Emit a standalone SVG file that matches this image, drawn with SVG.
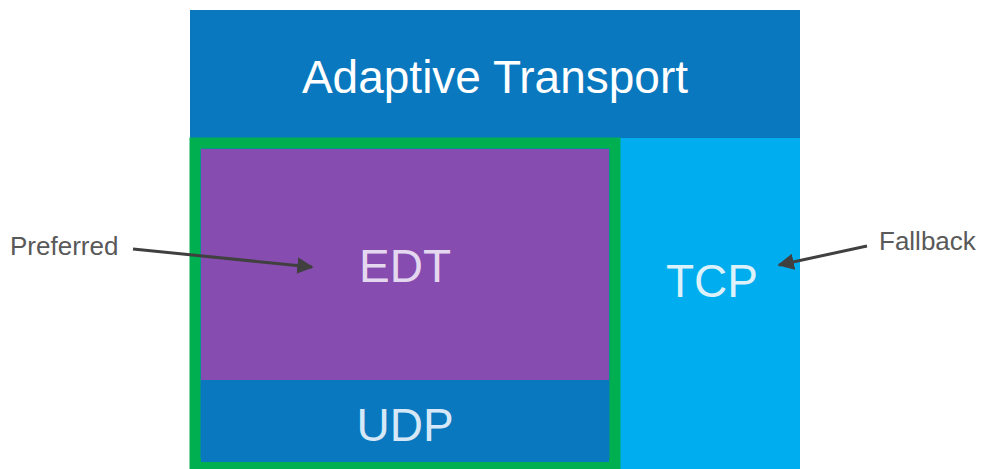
<svg xmlns="http://www.w3.org/2000/svg" width="984" height="469" viewBox="0 0 984 469">
<style>
.big{font-family:"Liberation Sans",Arial,sans-serif;font-size:46px;text-anchor:middle}
.lbl{font-family:"Liberation Sans",Arial,sans-serif;font-size:26px;fill:#595959}
.conn{stroke:#404040;stroke-width:3;fill:none;marker-end:url(#ah)}
</style>
<defs>
<marker id="ah" viewBox="0 0 10 10" refX="9" refY="5" markerWidth="5.5" markerHeight="5.5" orient="auto" markerUnits="strokeWidth">
<path d="M0,0 L10,5 L0,10 z" fill="#404040"/>
</marker>
</defs>
<rect width="984" height="469" fill="#ffffff"/>
<g id="adaptive-transport">
<rect x="190" y="10" width="610" height="459" fill="#0A78BE"/>
<text class="big" x="495" y="93" fill="#ffffff" font-size="47">Adaptive Transport</text>
</g>
<g id="tcp">
<rect x="620" y="138" width="180" height="331" fill="#00AEEF"/>
<text class="big" x="712" y="297" fill="#DDF1FB">TCP</text>
</g>
<g id="edt-udp-group">
<rect x="195" y="143" width="420" height="321" fill="none" stroke="#00B050" stroke-width="11"/>
</g>
<g id="edt">
<rect x="201" y="149" width="408" height="231" fill="#874CAF"/>
<text class="big" x="405" y="282" fill="#E4D8F0">EDT</text>
</g>
<g id="udp">
<rect x="201" y="380" width="408" height="82" fill="#0A78BE"/>
<text class="big" x="405" y="441" fill="#D6E8F7">UDP</text>
</g>
<g id="preferred">
<text class="lbl" x="10" y="255">Preferred</text>
</g>
<g id="fallback">
<text class="lbl" x="879" y="250">Fallback</text>
</g>
<g id="connectors">
<path class="conn" d="M133,249 L312,267"/>
<path class="conn" d="M867,246 L779,265"/>
</g>
</svg>
